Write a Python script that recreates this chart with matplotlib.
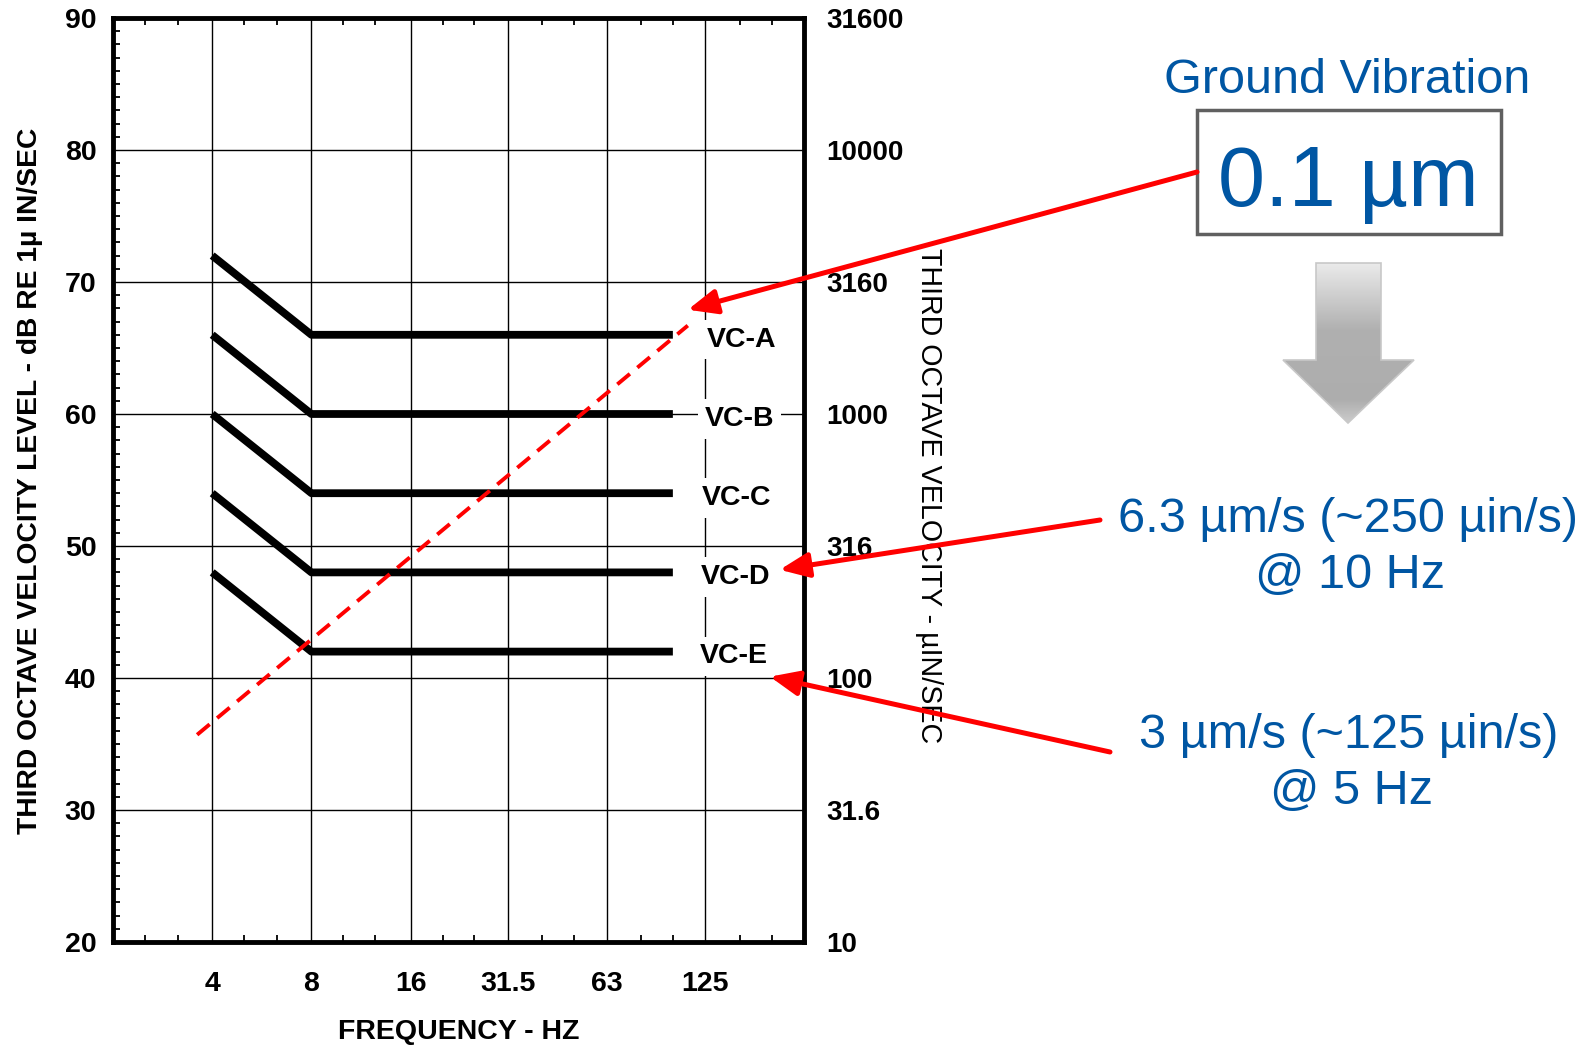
import numpy as np
import matplotlib
matplotlib.use('Agg')
import matplotlib.pyplot as plt
from matplotlib.patches import Rectangle, Polygon
from matplotlib.ticker import FixedLocator, NullFormatter

plt.rcParams['font.family'] = ['Liberation Sans', 'DejaVu Sans']

# chart values
freq_ticks = [4, 8, 16, 31.5, 63, 125]
freq_labels = ['4', '8', '16', '31.5', '63', '125']
third_octave = [2.5, 3.15, 5, 6.3, 10, 12.5, 20, 25, 40, 50, 80, 100, 160, 200]
db_ticks = [20, 30, 40, 50, 60, 70, 80, 90]
db_minor = list(range(20, 91))
vel_labels = ['10', '31.6', '100', '316', '1000', '3160', '10000', '31600']

curve_names = ['VC-A', 'VC-B', 'VC-C', 'VC-D', 'VC-E']
curve_freq = [4, 8, 100]
curve_levels = [[72, 66, 66], [66, 60, 60], [60, 54, 54], [54, 48, 48], [48, 42, 42]]
label_freq = 150
label_dx = [8, 6, 4, 3, 2]  # small nudges, points

# 0.1 um displacement line
disp_freq = [3.6, 111]
disp_db = [35.7, 66.7]

# where the red arrows point (Hz, dB)
arrow_tips = [(111, 67.9), (211, 48.2), (197, 40.1)]

W, H = 1589, 1046
fig = plt.figure(figsize=(W / 100, H / 100), dpi=100)
ax = fig.add_axes([113 / W, 1 - 942 / H, (804 - 113) / W, (942 - 18) / H])

ax.set_xscale('log', base=2)
ax.set_xlim(2, 250)
ax.set_ylim(20, 90)
ax.set_xticks(freq_ticks)
ax.set_xticklabels(freq_labels, fontweight='bold', fontsize=20.5)
ax.xaxis.set_minor_locator(FixedLocator(third_octave))
ax.xaxis.set_minor_formatter(NullFormatter())
ax.set_yticks(db_ticks)
ax.set_yticklabels([str(v) for v in db_ticks], fontweight='bold', fontsize=20.5)
ax.yaxis.set_minor_locator(FixedLocator(db_minor))
ax.tick_params(which='major', length=0)
ax.tick_params(axis='x', which='major', pad=21)
ax.tick_params(axis='y', which='major', pad=12)
ax.tick_params(which='minor', direction='in', length=5, width=1.3,
               top=True, bottom=True, left=True, right=True)
ax.grid(which='major', color='black', lw=1.0)
for s in ax.spines.values():
    s.set_linewidth(3.5)

for name, lv, dx in zip(curve_names, curve_levels, label_dx):
    ax.plot(curve_freq, lv, color='black', lw=5.6, solid_capstyle='butt')
    ax.annotate(name, (label_freq, lv[-1]), xytext=(dx, -3.5), textcoords='offset points',
                ha='center', va='center', fontsize=20.5, fontweight='bold', zorder=4,
                bbox=dict(facecolor='white', edgecolor='none', pad=5))

ax.plot(disp_freq, disp_db, color='red', lw=2.8, ls=(0, (4.2, 2.5)), zorder=3)

ax2 = ax.twinx()
ax2.set_ylim(20, 90)
ax2.set_yticks(db_ticks)
ax2.set_yticklabels(vel_labels, fontweight='bold', fontsize=20)
ax2.tick_params(length=0, pad=16)
for s in ax2.spines.values():
    s.set_visible(False)

# overlay in pixel coords for the annotations
ov = fig.add_axes([0, 0, 1, 1])
ov.axis('off')

ov.text(30, 481, 'THIRD OCTAVE VELOCITY LEVEL - dB RE 1µ IN/SEC', rotation=90,
        ha='center', va='center', fontsize=20.3, fontweight='bold')
ov.text(929, 496, 'THIRD OCTAVE VELOCITY - µIN/SEC', rotation=270,
        ha='center', va='center', fontsize=20.6)
ov.text(459, 1032, 'FREQUENCY - HZ', ha='center', va='center', fontsize=20.5,
        fontweight='bold')

blue = '#0056a3'
ov.text(1347, 93, 'Ground Vibration', ha='center', va='baseline', fontsize=35, color=blue)
ov.add_patch(Rectangle((1197, 110), 304, 124, facecolor='white',
                       edgecolor='#606060', lw=2.5))
ov.text(1348, 206, '0.1 µm', ha='center', va='baseline', fontsize=61, color=blue)
ov.text(1348, 532, '6.3 µm/s (~250 µin/s)', ha='center', va='baseline', fontsize=35, color=blue)
ov.text(1350, 588, '@ 10 Hz', ha='center', va='baseline', fontsize=35, color=blue)
ov.text(1349, 748, '3 µm/s (~125 µin/s)', ha='center', va='baseline', fontsize=35, color=blue)
ov.text(1351, 804, '@ 5 Hz', ha='center', va='baseline', fontsize=35, color=blue)

# gray block arrow with a vertical gradient
pts = [(1316, 263), (1381, 263), (1381, 360), (1414, 360), (1348, 423),
       (1283, 360), (1316, 360)]
poly = Polygon(pts, closed=True, facecolor='none', edgecolor='#c8c8c8', lw=1.2, zorder=3)
ov.add_patch(poly)
yy = np.linspace(263, 423, 200)
g = np.interp(yy, [263, 330, 400, 423], [0.92, 0.69, 0.68, 0.80])
img = np.dstack([g, g, g]).reshape(200, 1, 3)
im = ov.imshow(img, extent=(1283, 1414, 423, 263), aspect='auto', zorder=2)
im.set_clip_path(poly)

tails = [(1197, 172), (1100, 520), (1110, 752)]
for tip, tail in zip(arrow_tips, tails):
    ov.annotate('', xy=tip, xycoords=ax.transData, xytext=tail, textcoords='data',
                arrowprops=dict(arrowstyle='-|>,head_length=0.7,head_width=0.3',
                                color='red', lw=3.6, mutation_scale=25,
                                shrinkA=0, shrinkB=0))

ov.set_xlim(0, W)
ov.set_ylim(H, 0)

plt.savefig('out.png', dpi=100)
